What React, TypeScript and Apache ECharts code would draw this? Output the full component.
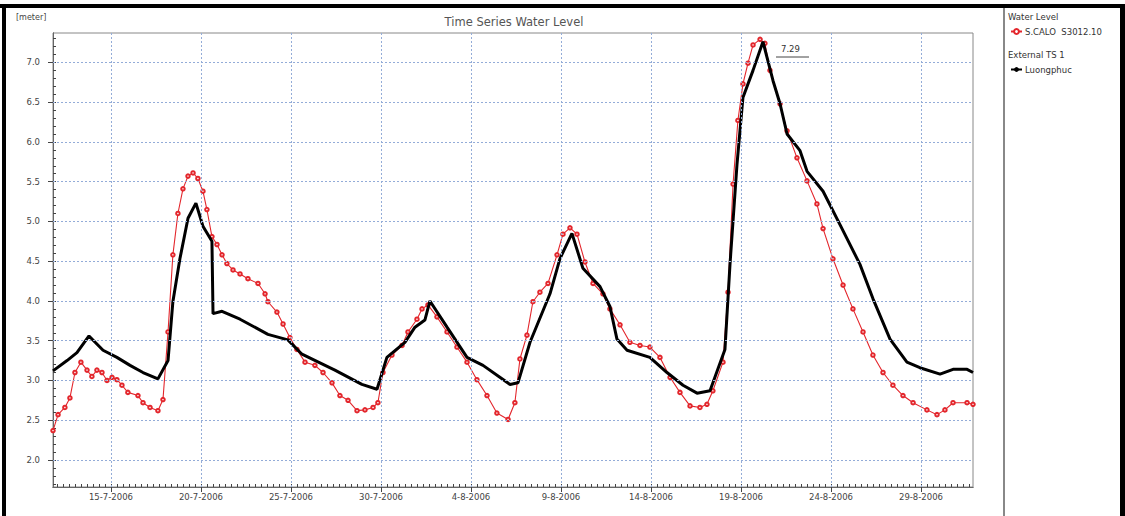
import React, { useEffect, useRef } from "react";
import * as echarts from "echarts";

// Day number counted from 1 July 2006 (15 = 15-7-2006, 32 = 1-8-2006)
const xTickDays = [15, 20, 25, 30, 35, 40, 45, 50, 55, 60];
const xTickLabels = [
  "15-7-2006", "20-7-2006", "25-7-2006", "30-7-2006", "4-8-2006",
  "9-8-2006", "14-8-2006", "19-8-2006", "24-8-2006", "29-8-2006",
];
const yTickValues = [2.0, 2.5, 3.0, 3.5, 4.0, 4.5, 5.0, 5.5, 6.0, 6.5, 7.0];
const yTickLabels = ["2.0", "2.5", "3.0", "3.5", "4.0", "4.5", "5.0", "5.5", "6.0", "6.5", "7.0"];

const caloName = "S.CALO  S3012.10";
const luongName = "Luongphuc";

const redDays = [
  11.78, 12.06, 12.44, 12.72, 13.0, 13.33, 13.67, 13.94, 14.22, 14.5, 14.78, 15.06, 15.33, 15.61, 15.94,
  16.5, 16.78, 17.17, 17.61, 17.89, 18.17, 18.44, 18.72, 19.0, 19.28, 19.56, 19.83, 20.11, 20.33, 20.61,
  20.89, 21.17, 21.44, 21.78, 22.17, 22.61, 23.17, 23.56, 23.72, 24.22, 24.56, 24.94, 25.33, 25.78, 26.33,
  26.78, 27.28, 27.72, 28.17, 28.67, 29.11, 29.56, 29.83, 30.11, 30.61, 31.17, 31.5, 32.0, 32.28, 32.61,
  33.11, 33.67, 34.22, 34.78, 35.33, 35.89, 36.44, 37.06, 37.44, 37.72, 38.11, 38.44, 38.83, 39.28, 39.78,
  40.11, 40.5, 40.89, 41.33, 41.78, 42.33, 42.72, 43.28, 43.83, 44.39, 44.94, 45.5, 46.06, 46.61, 47.17,
  47.72, 48.11, 48.44, 49.0, 49.28, 49.56, 49.83, 50.11, 50.39, 50.67, 51.06, 51.33, 51.61, 52.17, 52.56,
  53.11, 53.67, 54.22, 54.56, 55.11, 55.67, 56.22, 56.78, 57.33, 57.89, 58.44, 59.0, 59.56, 60.33, 60.89,
  61.33, 61.78, 62.56, 62.89,
];
const redLevels = [
  2.37, 2.57, 2.66, 2.78, 3.1, 3.23, 3.13, 3.05, 3.13, 3.1, 3.0, 3.04, 3.01, 2.94, 2.85,
  2.81, 2.72, 2.66, 2.62, 2.76, 3.61, 4.58, 5.1, 5.41, 5.57, 5.61, 5.54, 5.38, 5.15, 4.81,
  4.71, 4.58, 4.47, 4.39, 4.34, 4.28, 4.22, 4.09, 3.99, 3.86, 3.71, 3.54, 3.39, 3.23, 3.19,
  3.1, 2.97, 2.81, 2.75, 2.62, 2.63, 2.66, 2.72, 3.1, 3.32, 3.44, 3.61, 3.77, 3.9, 3.95,
  3.8, 3.61, 3.42, 3.23, 3.01, 2.81, 2.59, 2.51, 2.72, 3.27, 3.57, 3.99, 4.11, 4.22, 4.58,
  4.84, 4.92, 4.84, 4.49, 4.22, 4.09, 3.9, 3.7, 3.48, 3.44, 3.42, 3.29, 3.04, 2.85, 2.68,
  2.66, 2.7, 2.87, 3.23, 4.11, 5.47, 6.27, 6.73, 6.99, 7.22, 7.29, 7.24, 6.9, 6.48, 6.14,
  5.8, 5.51, 5.22, 4.91, 4.53, 4.2, 3.9, 3.61, 3.32, 3.1, 2.94, 2.81, 2.72, 2.63, 2.57,
  2.63, 2.72, 2.72, 2.7,
];

const blackDays = [
  11.78, 12.56, 13.11, 13.78, 14.56, 15.33, 16.06, 16.78, 17.61, 18.17, 18.44, 18.83, 19.28, 19.72, 20.11,
  20.61, 20.67, 21.17, 22.17, 23.72, 24.83, 25.61, 27.44, 28.94, 29.78, 30.33, 31.33, 31.89, 32.44, 32.72,
  33.67, 34.78, 35.67, 37.17, 37.61, 38.28, 39.39, 39.94, 40.61, 41.22, 42.17, 42.72, 43.11, 43.67, 44.94,
  45.89, 46.78, 47.56, 48.28, 49.11, 49.39, 49.78, 50.11, 50.67, 51.22, 51.78, 52.17, 52.56, 53.28, 53.67,
  54.56, 55.5, 56.61, 57.33, 58.28, 59.22, 59.94, 61.06, 61.78, 62.56, 62.89,
];
const blackLevels = [
  3.12, 3.25, 3.35, 3.56, 3.38, 3.29, 3.19, 3.1, 3.02, 3.25, 3.99, 4.53, 5.04, 5.23, 4.94,
  4.75, 3.84, 3.87, 3.77, 3.58, 3.51, 3.33, 3.13, 2.95, 2.89, 3.29, 3.48, 3.67, 3.76, 4.0,
  3.67, 3.29, 3.19, 2.95, 2.97, 3.48, 4.09, 4.53, 4.85, 4.41, 4.18, 3.93, 3.52, 3.38, 3.29,
  3.1, 2.94, 2.84, 2.87, 3.39, 4.46, 5.72, 6.56, 6.9, 7.26, 6.77, 6.48, 6.1, 5.89, 5.63,
  5.38, 4.96, 4.46, 4.03, 3.52, 3.23, 3.16, 3.08, 3.14, 3.14, 3.1,
];

const X_MIN = 11.78;
const X_MAX = 62.89;
const Y_MIN = 1.66;
const Y_MAX = 7.37;

const FONT = "'DejaVu Sans', Arial, sans-serif";

export default function App() {
  const ref = useRef<HTMLDivElement>(null);

  useEffect(() => {
    if (!ref.current) return;
    const chart = echarts.init(ref.current, null, { renderer: "svg" });

    const xMinor: number[] = [];
    for (let d = 12; d <= X_MAX; d += 1 / 3) xMinor.push(Math.round(d * 1000) / 1000);
    const yMinor: number[] = [];
    for (let v = 1.7; v <= Y_MAX; v += 0.1) yMinor.push(Math.round(v * 10) / 10);

    const gridLineData: any[] = [
      ...xTickDays.map((d) => ({ xAxis: d })),
      ...yTickValues.map((v) => ({ yAxis: v })),
    ];

    const option: any = {
      animation: false,
      backgroundColor: "#ffffff",
      textStyle: { fontFamily: FONT },
      legend: {
        orient: "vertical",
        left: 1005,
        top: 22,
        itemWidth: 11,
        itemHeight: 6,
        itemGap: 29,
        textStyle: { fontSize: 8.5, color: "#333", fontFamily: FONT, padding: [0, 0, 0, -2] },
        data: [caloName, luongName],
      },
      grid: {
        left: 53,
        top: 33,
        right: 152,
        bottom: 29,
        show: true,
        borderColor: "#888",
        borderWidth: 1,
        backgroundColor: "#fff",
      },
      xAxis: [
        {
          type: "value",
          min: X_MIN,
          max: X_MAX,
          position: "bottom",
          axisLine: { show: true, lineStyle: { color: "#666" } },
          axisTick: { show: true, customValues: xTickDays, length: 5, lineStyle: { color: "#444" } },
          axisLabel: {
            customValues: xTickDays,
            fontSize: 8.5,
            color: "#444",
            margin: 5,
            formatter: (v: number) => {
              const i = xTickDays.indexOf(Math.round(v));
              return i >= 0 ? xTickLabels[i] : "";
            },
          },
          splitLine: { show: false },
        },
        {
          type: "value",
          min: X_MIN,
          max: X_MAX,
          position: "bottom",
          axisLine: { show: true, lineStyle: { color: "#666", width: 1 } },
          axisTick: { show: true, inside: true, customValues: xMinor, length: 3, lineStyle: { color: "#444" } },
          axisLabel: { show: false },
          splitLine: { show: false },
        },
      ],
      yAxis: [
        {
          type: "value",
          min: Y_MIN,
          max: Y_MAX,
          position: "left",
          axisLine: { show: true, lineStyle: { color: "#666" } },
          axisTick: { show: true, customValues: yTickValues, length: 5, lineStyle: { color: "#444" } },
          axisLabel: {
            customValues: yTickValues,
            fontSize: 8.5,
            color: "#444",
            margin: 13,
            formatter: (v: number) => {
              const i = yTickValues.findIndex((t) => Math.abs(t - v) < 1e-6);
              return i >= 0 ? yTickLabels[i] : "";
            },
          },
          splitLine: { show: false },
        },
        {
          type: "value",
          min: Y_MIN,
          max: Y_MAX,
          position: "left",
          axisLine: { show: true, lineStyle: { color: "#666" } },
          axisTick: { show: true, inside: true, customValues: yMinor, length: 3, lineStyle: { color: "#444" } },
          axisLabel: { show: false },
          splitLine: { show: false },
        },
      ],
      series: [
        {
          name: "grid",
          type: "line",
          data: [],
          silent: true,
          z: 1,
          markLine: {
            silent: true,
            symbol: ["none", "none"],
            label: { show: false },
            lineStyle: { color: "#93acd8", type: [2, 2], width: 1 },
            data: gridLineData,
          },
        },
        {
          name: caloName,
          type: "line",
          z: 3,
          data: redDays.map((d, i) => [d, redLevels[i]]),
          symbol: "emptyCircle",
          symbolSize: 3.5,
          showSymbol: true,
          lineStyle: { color: "#e3262c", width: 1.1 },
          itemStyle: { color: "#e3262c", borderColor: "#e3262c", borderWidth: 1 },
        },
        {
          name: luongName,
          type: "line",
          z: 4,
          data: blackDays.map((d, i) => [d, blackLevels[i]]),
          symbol: "none",
          lineStyle: { color: "#000", width: 3 },
          itemStyle: { color: "#000" },
        },
      ],
      graphic: [
        { type: "rect", shape: { x: 0, y: 4, width: 1125, height: 4 }, style: { fill: "#000" }, silent: true },
        { type: "rect", shape: { x: 2, y: 4, width: 4, height: 512 }, style: { fill: "#000" }, silent: true },
        { type: "rect", shape: { x: 1120, y: 4, width: 5, height: 512 }, style: { fill: "#000" }, silent: true },
        { type: "line", shape: { x1: 1004, y1: 8, x2: 1004, y2: 516 }, style: { stroke: "#888", lineWidth: 2 }, silent: true },
        {
          type: "text",
          x: 514,
          y: 22,
          style: {
            text: "Time Series Water Level",
            fontSize: 11.5,
            fill: "#555",
            fontFamily: FONT,
            textAlign: "center",
            textVerticalAlign: "middle",
          },
        },
        { type: "text", x: 16, y: 13, style: { text: "[meter]", fontSize: 8, fill: "#444", fontFamily: FONT } },
        { type: "text", x: 1008, y: 12, style: { text: "Water Level", fontSize: 8.5, fill: "#333", fontFamily: FONT } },
        { type: "text", x: 1008, y: 50, style: { text: "External TS 1", fontSize: 8.5, fill: "#333", fontFamily: FONT } },
        { type: "text", x: 781, y: 44, style: { text: "7.29", fontSize: 8.5, fill: "#333", fontFamily: FONT } },
        { type: "line", shape: { x1: 776, y1: 57, x2: 809, y2: 57 }, style: { stroke: "#444", lineWidth: 1 }, silent: true },
      ],
    };

    chart.setOption(option);
    return () => chart.dispose();
  }, []);

  return (
    <div
      ref={ref}
      style={{ position: "fixed", left: 0, top: 0, width: 1125, height: 516, background: "#fff" }}
    />
  );
}
